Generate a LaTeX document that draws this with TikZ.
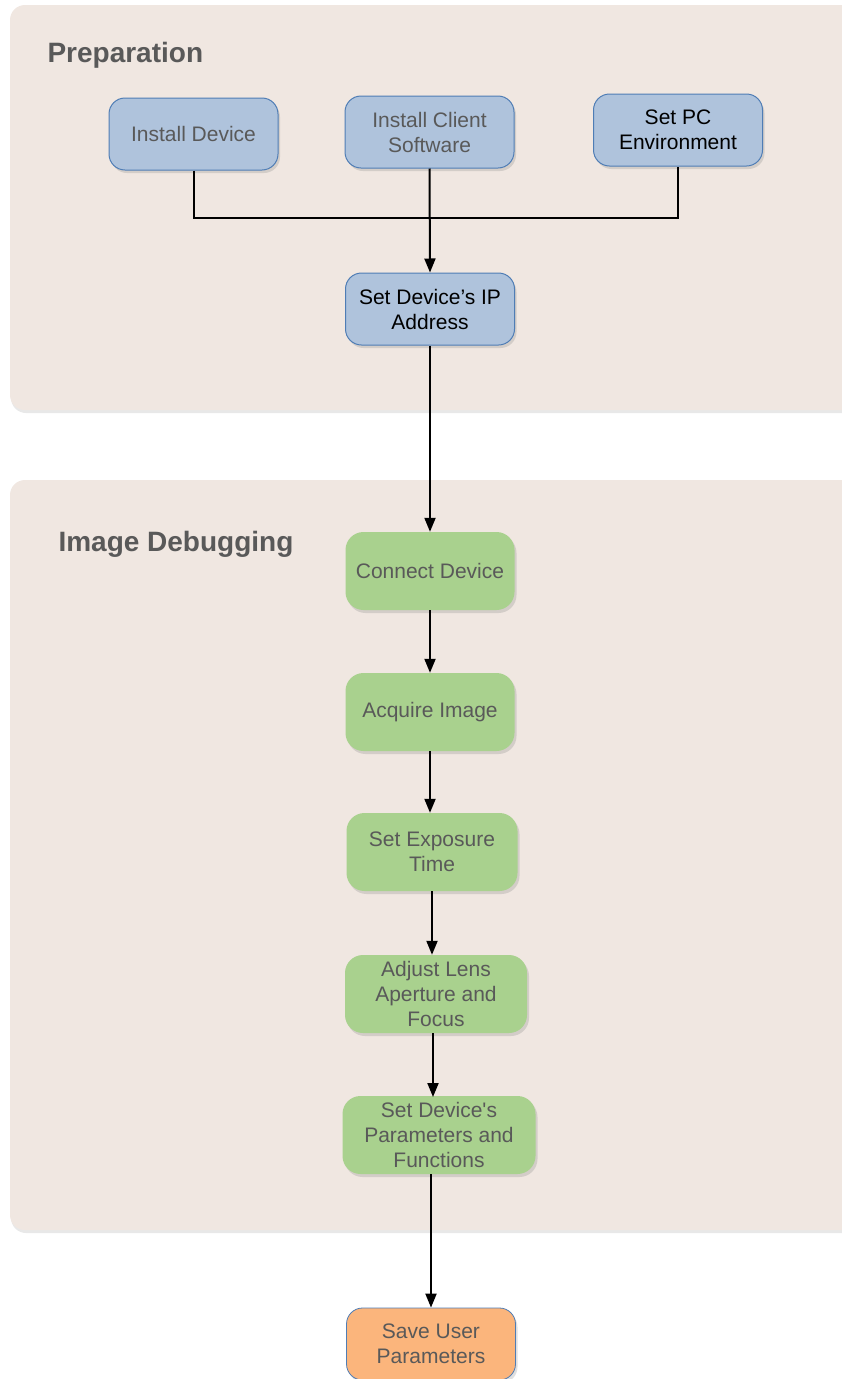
\documentclass[tikz,border=0pt]{standalone}
\usepackage{fontspec}
\setmainfont{Liberation Sans}
\usepackage{textcomp}
\usetikzlibrary{shadows,arrows.meta}

\definecolor{panelbg}{HTML}{F0E7E1}
\definecolor{prepblue}{HTML}{AFC3DC}
\definecolor{prepedge}{HTML}{4F7DB5}
\definecolor{debuggreen}{HTML}{A9D18E}
\definecolor{saveorange}{HTML}{FBB57C}
\definecolor{txtgray}{HTML}{595959}

\tikzset{
  panel/.style={fill=panelbg, rounded corners=15pt,
    drop shadow={opacity=0.18, shadow xshift=1pt, shadow yshift=-3pt}},
  title/.style={anchor=west, text=txtgray, font=\fontsize{28}{32}\selectfont\bfseries},
  box/.style={rounded corners=16pt, align=center, minimum width=169pt, minimum height=72pt,
    inner sep=2pt, text=txtgray, font=\fontsize{21}{25}\selectfont,
    drop shadow={opacity=0.25, shadow xshift=2pt, shadow yshift=-3pt}},
  prepbox/.style={box, draw=prepedge, line width=1pt, fill=prepblue},
  debugbox/.style={box, fill=debuggreen, minimum height=78pt, rounded corners=18pt},
  savebox/.style={box, draw=prepedge, line width=0.8pt, fill=saveorange},
  link/.style={line width=2pt, draw=black},
  flow/.style={link, -{Triangle[length=14pt, width=11pt]}}
}

\begin{document}
\begin{tikzpicture}[x=1pt, y=-1pt]
  \useasboundingbox (0,0) rectangle (842,1379);
  \begin{scope}
    \clip (0,0) rectangle (842,1379);
    \path[panel] (10,5) rectangle (860,410);
    \path[panel] (10,480) rectangle (860,1230);
  \end{scope}

  \node[title] (prep) at (44,55) {Preparation};
  \node[title] (debug) at (55,544) {Image Debugging};

  \node[prepbox] (dev) at (193.5,134) {Install Device};
  \node[prepbox] (client) at (429.5,132) {Install Client\\Software};
  \node[prepbox, text=black] (env) at (678,130) {Set PC\\Environment};
  \node[prepbox, text=black] (ip) at (430,309) {Set Device’s IP\\Address};

  \node[debugbox] (connect) at (430,571) {Connect Device};
  \node[debugbox] (acquire) at (430,712) {Acquire Image};
  \node[debugbox, minimum width=171pt] (expo) at (432,852) {Set Exposure\\Time};
  \node[debugbox, minimum width=182pt] (lens) at (436,994) {Adjust Lens\\Aperture and\\Focus};
  \node[debugbox, minimum width=193pt] (params) at (439,1135) {Set Device\textquotesingle s\\Parameters and\\Functions};

  \node[savebox] (save) at (431,1344) {Save User\\Parameters};

  \coordinate (bus) at (430,218);
  \draw[link] (dev.south) |- (bus) -| (env.south);
  \draw[flow] (client.south) -- (ip.north);
  \draw[flow] (ip.south) -- (ip.south |- connect.north);
  \draw[flow] (connect.south) -- (connect.south |- acquire.north);
  \draw[flow] (acquire.south) -- (acquire.south |- expo.north);
  \draw[flow] (expo.south) -- (expo.south |- lens.north);
  \draw[flow] (433,1033) -- (433,1097);
  \draw[flow] (431,1174) -- (save.north);
\end{tikzpicture}
\end{document}
